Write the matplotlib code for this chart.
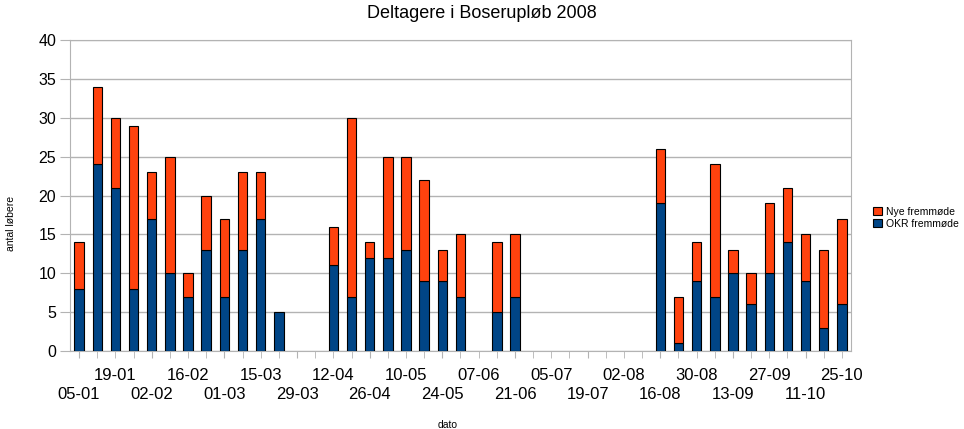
import matplotlib.pyplot as plt
import numpy as np
from matplotlib.ticker import FixedLocator, FixedFormatter

plt.rcParams["font.family"] = ["Liberation Sans", "DejaVu Sans"]

# -----------------------------
# Data (weekly runs 2008)
# -----------------------------
dates = ["05-01", "12-01", "19-01", "26-01", "02-02", "09-02", "16-02", "23-02",
         "01-03", "08-03", "15-03", "22-03", "29-03", "05-04", "12-04", "19-04",
         "26-04", "03-05", "10-05", "17-05", "24-05", "31-05", "07-06", "14-06",
         "21-06", "28-06", "05-07", "12-07", "19-07", "26-07", "02-08", "09-08",
         "16-08", "23-08", "30-08", "06-09", "13-09", "20-09", "27-09", "04-10",
         "11-10", "18-10", "25-10"]

okr = [8, 24, 21, 8, 17, 10, 7, 13, 7, 13, 17, 5, 0, 0, 11, 7,
       12, 12, 13, 9, 9, 7, 0, 5, 7, 0, 0, 0, 0, 0, 0, 0,
       19, 1, 9, 7, 10, 6, 10, 14, 9, 3, 6]

nye = [6, 10, 9, 21, 6, 15, 3, 7, 10, 10, 6, 0, 0, 0, 5, 23,
       2, 13, 12, 13, 4, 8, 0, 9, 8, 0, 0, 0, 0, 0, 0, 0,
       7, 6, 5, 17, 3, 4, 9, 7, 6, 10, 11]

BLUE = "#004586"
ORANGE = "#FF420E"
GRID = "#B3B3B3"

# -----------------------------
# Figure
# -----------------------------
fig = plt.figure(figsize=(9.64, 4.29), dpi=100)
ax = fig.add_axes([70 / 964, 1 - 351 / 429, 781 / 964, 311 / 429])

x = np.arange(len(dates))
okr = np.array(okr)
nye = np.array(nye)
lw_okr = np.where(okr > 0, 0.8, 0)
lw_nye = np.where(nye > 0, 0.8, 0)

ax.bar(x, okr, width=0.52, color=BLUE, edgecolor="black", linewidth=lw_okr,
       label="OKR fremmøde", zorder=3)
ax.bar(x, nye, width=0.52, bottom=okr, color=ORANGE, edgecolor="black",
       linewidth=lw_nye, label="Nye fremmøde", zorder=3)

ax.set_xlim(-0.5, len(dates) - 0.5)
ax.set_ylim(0, 40)
ax.set_yticks(range(0, 41, 5))
ax.yaxis.grid(True, color=GRID, linewidth=1, zorder=0)

# staggered date labels: lower row on major ticks, upper row on minor ticks
lower = [i for i in x if i % 4 == 0]
other = [i for i in x if i % 4 != 0]
ax.xaxis.remove_overlapping_locs = False
ax.xaxis.set_major_locator(FixedLocator(lower))
ax.xaxis.set_major_formatter(FixedFormatter([dates[i] for i in lower]))
ax.xaxis.set_minor_locator(FixedLocator(other))
ax.xaxis.set_minor_formatter(FixedFormatter([dates[i] if i % 4 == 2 else "" for i in other]))

ax.tick_params(axis="x", which="major", length=5, color=GRID, labelsize=12, pad=21)
ax.tick_params(axis="x", which="minor", length=5, color=GRID, labelsize=12, pad=7.5)
ax.tick_params(axis="y", length=7, color=GRID, labelsize=11.5, pad=3)
for s in ax.spines.values():
    s.set_color(GRID)

fig.text(0.5, 1 - 14 / 429, "Deltagere i Boseruploeb 2008".replace("oe", "ø"),
         ha="center", va="center", fontsize=13)
fig.text(11 / 964, 1 - 223 / 429, "antal løbere", rotation=90,
         ha="center", va="center", fontsize=7.5)
fig.text(448 / 964, 1 - 425 / 429, "dato", ha="center", va="center", fontsize=7.5)

handles, labs = ax.get_legend_handles_labels()
leg = fig.legend(handles[::-1], labs[::-1], loc="center left",
                 bbox_to_anchor=(868 / 964, 1 - 218 / 429), frameon=False,
                 fontsize=7.5, handlelength=0.8, handleheight=0.8,
                 handletextpad=0.4, labelspacing=0.2, borderpad=0)

fig.savefig("out.png", dpi=100)
